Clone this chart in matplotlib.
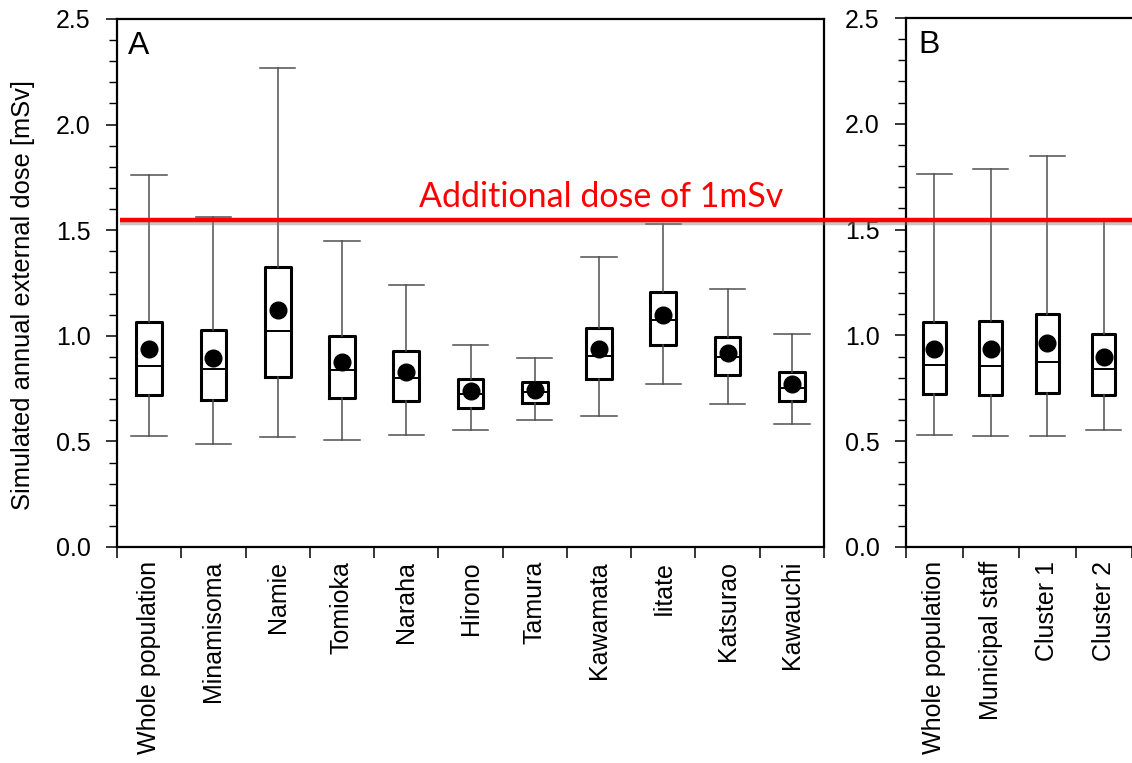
import numpy as np
import matplotlib
matplotlib.use('Agg')
import matplotlib.pyplot as plt
import matplotlib.patheffects as pe
from matplotlib import transforms
from matplotlib.ticker import FormatStrFormatter

plt.rcParams['font.family'] = ['Liberation Sans', 'DejaVu Sans']

# Panel A: municipalities
towns = ['Whole population', 'Minamisoma', 'Namie', 'Tomioka', 'Naraha', 'Hirono',
         'Tamura', 'Kawamata', 'Iitate', 'Katsurao', 'Kawauchi']
a_whislo = [0.527, 0.488, 0.521, 0.505, 0.530, 0.553, 0.603, 0.622, 0.773, 0.676, 0.581]
a_q1 = [0.720, 0.696, 0.803, 0.704, 0.693, 0.660, 0.682, 0.794, 0.956, 0.813, 0.690]
a_med = [0.856, 0.843, 1.023, 0.838, 0.800, 0.724, 0.734, 0.904, 1.073, 0.898, 0.754]
a_q3 = [1.064, 1.029, 1.327, 1.001, 0.926, 0.795, 0.783, 1.038, 1.206, 0.994, 0.830]
a_whishi = [1.761, 1.561, 2.266, 1.449, 1.240, 0.956, 0.896, 1.373, 1.528, 1.220, 1.007]
a_mean = [0.938, 0.895, 1.124, 0.877, 0.827, 0.737, 0.742, 0.936, 1.100, 0.919, 0.770]

# Panel B: groups
groups = ['Whole population', 'Municipal staff', 'Cluster 1', 'Cluster 2']
b_whislo = [0.529, 0.526, 0.523, 0.551]
b_q1 = [0.722, 0.716, 0.727, 0.718]
b_med = [0.858, 0.857, 0.876, 0.839]
b_q3 = [1.064, 1.066, 1.099, 1.006]
b_whishi = [1.761, 1.786, 1.848, 1.540]
b_mean = [0.938, 0.938, 0.962, 0.896]

reference_dose = 1.548
reference_text = 'Additional dose of 1mSv'

# Plot aspects
label_size = 18
whisker_color = '#505050'


def make_stats(labels, whislo, q1, med, q3, whishi, mean):
    return [dict(label=l, whislo=a, q1=b, med=c, q3=d, whishi=e, mean=m, fliers=[])
            for l, a, b, c, d, e, m in zip(labels, whislo, q1, med, q3, whishi, mean)]


def draw_boxes(ax, stats, width, capwidth):
    ax.bxp(stats, positions=np.arange(1, len(stats) + 1), widths=width, capwidths=capwidth,
           showmeans=True, manage_ticks=False,
           boxprops=dict(color='black', linewidth=2.2),
           medianprops=dict(color='black', linewidth=1.4),
           whiskerprops=dict(color=whisker_color, linewidth=1.1),
           capprops=dict(color=whisker_color, linewidth=1.1),
           meanprops=dict(marker='o', markerfacecolor='black', markeredgecolor='black',
                          markersize=12))


def style_axis(ax, labels):
    n = len(labels)
    ax.set_ylim(0, 2.5)
    ax.set_yticks(np.arange(0, 2.51, 0.5))
    ax.set_yticks(np.arange(0, 2.51, 0.1), minor=True)
    ax.yaxis.set_major_formatter(FormatStrFormatter('%.1f'))
    ax.set_xticks(np.arange(1, n + 1))
    ax.set_xticklabels(labels, rotation=90, fontsize=label_size)
    ax.set_xticks(np.arange(0.5, n + 1, 1), minor=True)
    ax.tick_params(axis='x', which='major', length=0, pad=10)
    ax.tick_params(axis='x', which='minor', length=8, width=1.1, direction='out')
    ax.tick_params(axis='y', which='major', length=8, width=1.1, direction='out',
                   labelsize=label_size, pad=11)
    ax.tick_params(axis='y', which='minor', length=6, width=1.0, direction='out')
    for s in ax.spines.values():
        s.set_linewidth(1.6)


fig = plt.figure(figsize=(11.32, 7.63), dpi=100)

axA = fig.add_axes([117 / 1132, 216 / 763, 707 / 1132, 528 / 763])
draw_boxes(axA, make_stats(towns, a_whislo, a_q1, a_med, a_q3, a_whishi, a_mean), 0.40, 0.55)
axA.set_xlim(0.5, len(towns) + 0.5)
style_axis(axA, towns)
axA.text(0.016, 0.978, 'A', transform=axA.transAxes, fontsize=23, va='top', ha='left')

axB = fig.add_axes([906 / 1132, 216 / 763, 226 / 1132, 529 / 763])
draw_boxes(axB, make_stats(groups, b_whislo, b_q1, b_med, b_q3, b_whishi, b_mean), 0.41, 0.62)
axB.set_xlim(0.5, 0.5 + 226 / 58.7)
style_axis(axB, groups)
axB.spines['right'].set_visible(False)
axB.text(0.055, 0.978, 'B', transform=axB.transAxes, fontsize=23, va='top', ha='left')

fig.text(23 / 1132, 1 - 295 / 763, 'Simulated annual external dose [mSv]', rotation=90,
         fontsize=18.4, ha='center', va='center')

# Reference dose line across both panels
trans = transforms.blended_transform_factory(fig.transFigure, axA.transData)
line = plt.Line2D([120 / 1132, 1.0], [reference_dose, reference_dose], transform=trans,
                  color='#ff0000', linewidth=3.2, zorder=10, solid_capstyle='butt',
                  path_effects=[pe.SimpleLineShadow(offset=(0, -2), shadow_color='gray', alpha=0.45),
                                pe.Normal()])
fig.add_artist(line)
fig.text(419 / 1132, 1 - 207 / 763, reference_text, color='#ff0000', fontsize=24.5,
         family=['Lato', 'DejaVu Sans'], ha='left', va='baseline', zorder=11)

fig.savefig('out.png', dpi=100)
